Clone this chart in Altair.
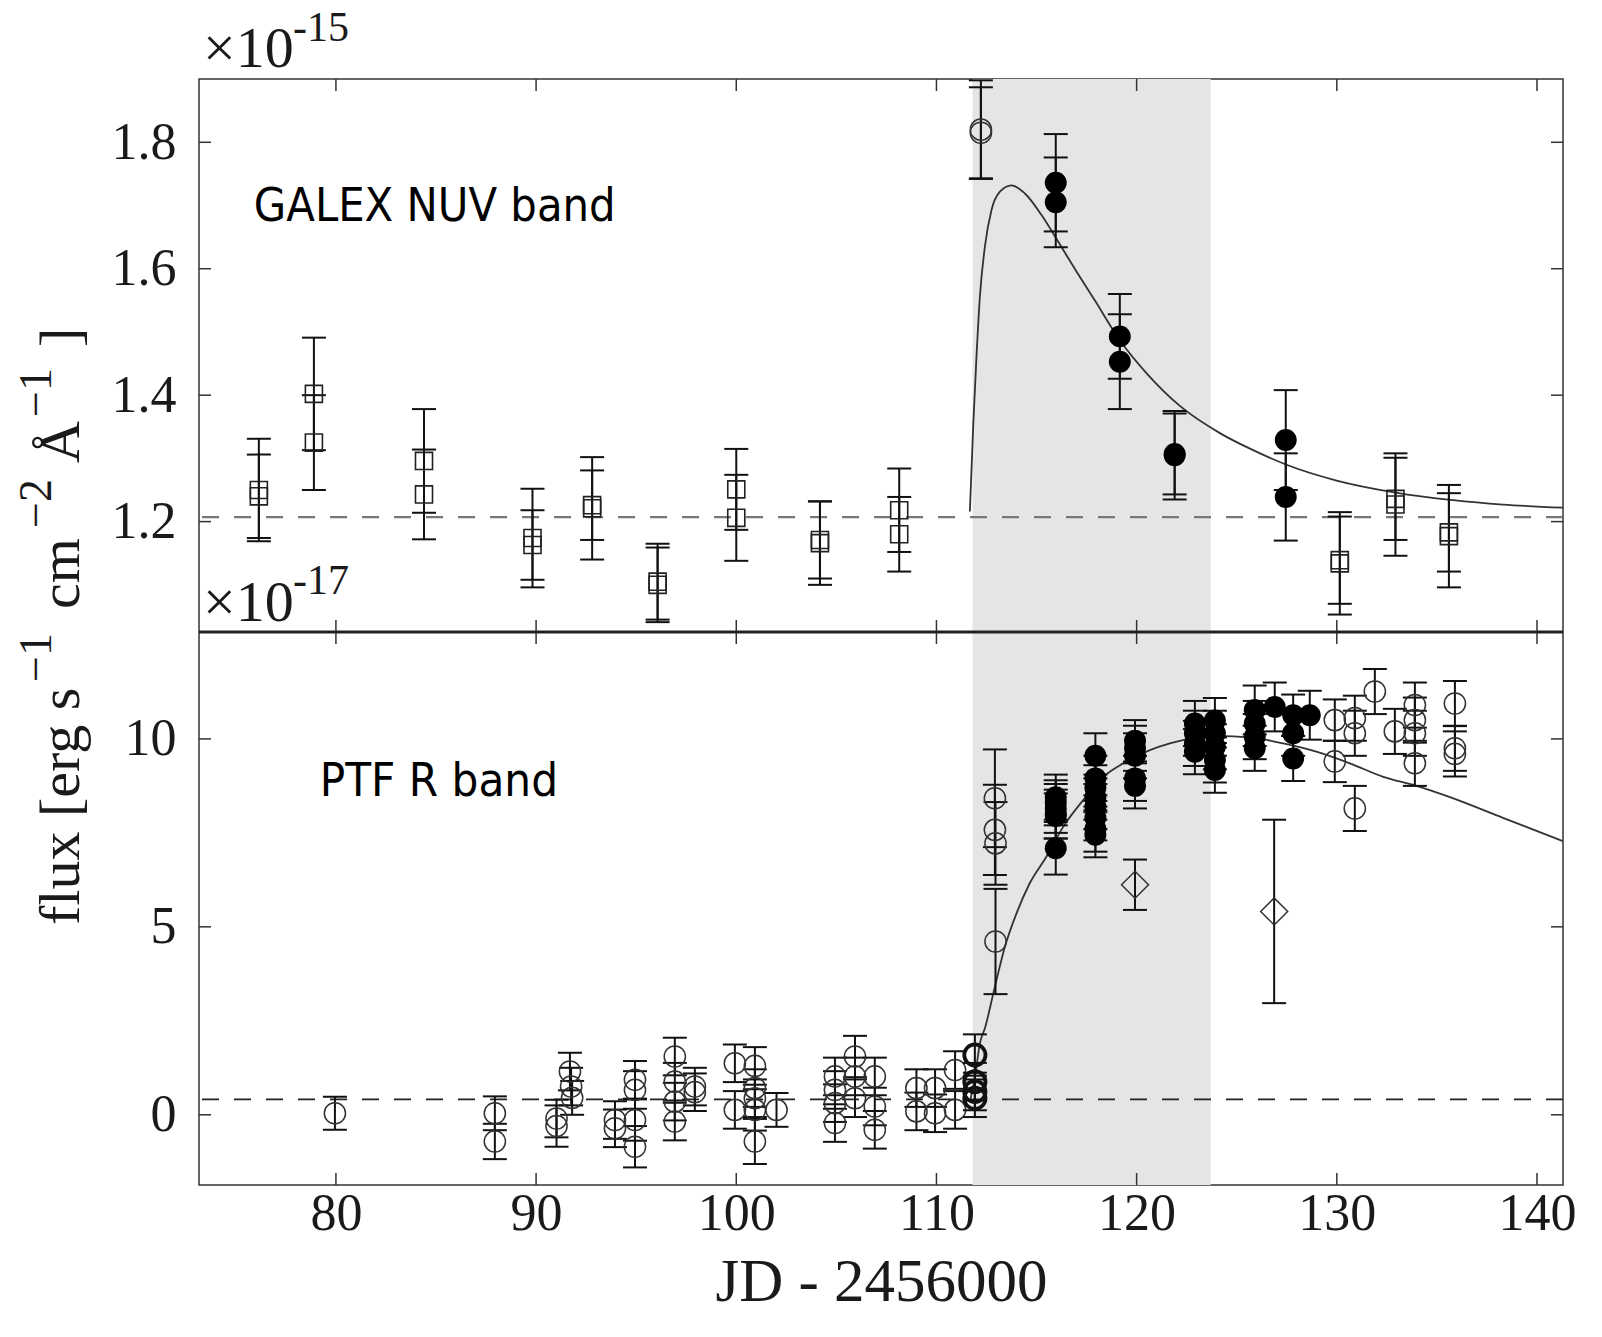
import altair as alt
import pandas as pd

# ------------------------------------------------------------------
# DATA
# ------------------------------------------------------------------
# GALEX NUV band (top panel), flux in units of 1e-15
nuv_sq_x = [76.15, 76.15, 78.90, 78.90, 84.40, 84.40, 89.82, 89.82, 92.80, 92.80,
            96.07, 96.07, 100.00, 100.00, 104.18, 104.18, 108.14, 108.14,
            130.15, 130.15, 132.93, 132.93, 135.60, 135.60]
nuv_sq_y = [1.250, 1.240, 1.402, 1.325, 1.296, 1.243, 1.174, 1.163, 1.221, 1.226,
            1.105, 1.100, 1.251, 1.206, 1.171, 1.166, 1.218, 1.180,
            1.134, 1.139, 1.227, 1.236, 1.177, 1.183]
nuv_sq_e = [0.081, 0.066, 0.089, 0.075, 0.082, 0.071, 0.078, 0.055, 0.081, 0.055,
            0.060, 0.059, 0.064, 0.068, 0.061, 0.066, 0.066, 0.059,
            0.081, 0.069, 0.081, 0.065, 0.081, 0.062]

nuv_fill_x = [115.96, 115.96, 119.16, 119.16, 121.90, 121.90, 127.45, 127.45]
nuv_fill_y = [1.736, 1.705, 1.493, 1.453, 1.305, 1.307, 1.329, 1.239]
nuv_fill_e = [0.077, 0.071, 0.067, 0.075, 0.070, 0.064, 0.079, 0.069]

nuv_open_x = [112.22, 112.22]
nuv_open_y = [1.815, 1.820]
nuv_open_e = [0.072, 0.078]

nuv_model_x = [111.67, 111.84, 112.00, 112.17, 112.42, 112.75, 113.17, 113.75, 114.42,
               115.25, 116.08, 116.91, 117.91, 119.16, 120.49, 122.16, 124.16, 125.82,
               127.49, 129.99, 132.93, 135.81, 138.30, 141.30]
nuv_model_y = [1.216, 1.355, 1.461, 1.556, 1.635, 1.693, 1.722, 1.732, 1.719,
               1.685, 1.643, 1.600, 1.550, 1.487, 1.435, 1.383, 1.340, 1.313,
               1.290, 1.265, 1.246, 1.234, 1.227, 1.222]
nuv_quiescent = [1.207]

# PTF R band (bottom panel), flux in units of 1e-17
ptf_open_x = [79.95, 87.94, 87.94, 91.02, 91.02, 91.69, 91.75, 91.80, 93.94, 93.94,
              94.94, 94.94, 94.94, 94.94, 96.93, 96.93, 96.93, 96.93, 97.93, 97.93,
              99.93, 99.93, 100.93, 100.93, 100.93, 100.93, 100.93, 102.01,
              104.93, 104.93, 104.93, 104.93, 105.93, 105.93, 105.93,
              106.92, 106.92, 106.92, 109.00, 109.00, 109.93, 109.93, 110.93, 110.93,
              112.92, 112.92, 112.95, 112.95,
              129.90, 129.90, 130.90, 130.90, 130.90, 131.90, 132.90,
              133.90, 133.90, 133.90, 133.90, 135.90, 135.90, 135.90]
ptf_open_y = [0.04, 0.04, -0.71, -0.10, -0.30, 1.15, 0.75, 0.45, -0.14, -0.36,
              0.93, 0.66, -0.14, -0.85, 1.55, 0.88, 0.35, -0.18, 0.75, 0.60,
              1.37, 0.13, 1.30, 0.71, 0.44, 0.13, -0.71, 0.13,
              1.02, 0.66, 0.31, -0.22, 1.55, 1.02, 0.44,
              1.02, 0.22, -0.40, 0.71, 0.09, 0.71, 0.04, 1.19, 0.13,
              8.42, 7.58, 7.22, 4.61,
              10.50, 9.40, 10.55, 10.15, 8.15, 11.26, 10.20,
              10.90, 10.50, 10.15, 9.35, 10.94, 9.75, 9.60]
ptf_open_e = [0.44, 0.45, 0.47, 0.50, 0.55, 0.50, 0.50, 0.45, 0.50, 0.50,
              0.50, 0.50, 0.55, 0.55, 0.50, 0.50, 0.50, 0.50, 0.50, 0.50,
              0.50, 0.50, 0.50, 0.50, 0.50, 0.55, 0.60, 0.45,
              0.50, 0.50, 0.50, 0.50, 0.55, 0.50, 0.50,
              0.50, 0.50, 0.50, 0.50, 0.50, 0.50, 0.50, 0.50, 0.50,
              1.30, 1.20, 1.10, 1.40,
              0.55, 0.55, 0.60, 0.60, 0.60, 0.60, 0.60,
              0.60, 0.60, 0.60, 0.60, 0.60, 0.60, 0.60]

ptf_bold_x = [111.92, 111.92, 111.92, 111.92]
ptf_bold_y = [1.59, 0.88, 0.62, 0.44]
ptf_bold_e = [0.55, 0.50, 0.50, 0.50]

ptf_fill_x = [115.96, 115.96, 115.96, 115.96, 115.96, 115.96,
              117.94, 117.94, 117.94, 117.94, 117.94, 117.94, 117.94, 117.94,
              119.92, 119.92, 119.92, 119.92, 119.92,
              122.91, 122.91, 122.91, 122.91,
              123.91, 123.91, 123.91, 123.91, 123.91,
              125.90, 125.90, 125.90, 125.90, 126.90,
              127.82, 127.82, 127.82, 128.65]
ptf_fill_y = [8.45, 8.30, 8.15, 8.00, 7.95, 7.09,
              9.55, 8.95, 8.70, 8.45, 8.20, 7.90, 7.60, 7.45,
              9.95, 9.75, 9.55, 8.95, 8.75,
              10.41, 10.15, 9.88, 9.66,
              10.49, 10.15, 9.79, 9.44, 9.17,
              10.77, 10.41, 10.06, 9.75, 10.85,
              10.63, 10.15, 9.48, 10.63]
ptf_fill_e = [0.60, 0.60, 0.65, 0.65, 0.60, 0.70,
              0.60, 0.60, 0.60, 0.60, 0.60, 0.60, 0.60, 0.60,
              0.55, 0.60, 0.60, 0.60, 0.60,
              0.60, 0.60, 0.60, 0.60,
              0.60, 0.60, 0.60, 0.60, 0.60,
              0.65, 0.60, 0.60, 0.60, 0.65,
              0.55, 0.60, 0.60, 0.65]

ptf_diamond_x = [119.92, 126.87]
ptf_diamond_y = [6.12, 5.41]
ptf_diamond_e = [0.67, 2.44]

ptf_model_x = [111.70, 111.95, 112.17, 112.42, 112.92, 113.42, 114.00, 114.66, 115.50,
               116.33, 117.33, 118.33, 119.33, 120.66, 121.66, 122.32, 123.99, 125.65,
               127.32, 128.98, 130.65, 132.32, 133.98, 135.65, 138.30, 141.30]
ptf_model_y = [0.41, 1.10, 1.90, 2.30, 3.41, 4.47, 5.36, 6.16, 6.87,
               7.66, 8.37, 8.99, 9.35, 9.70, 9.88, 9.97, 10.08, 10.04,
               9.88, 9.66, 9.35, 8.99, 8.75, 8.45, 7.90, 7.28]
ptf_quiescent = [0.41]

flare_window = [111.8, 123.7]

x_ticks = [80, 90, 100, 110, 120, 130, 140]
top_ticks = [1.2, 1.4, 1.6, 1.8]
bot_ticks = [0, 5, 10]

# ------------------------------------------------------------------
# LAYOUT
# ------------------------------------------------------------------
X_DOM = [73.16, 141.30]
TOP_DOM = [1.0254, 1.9001]
BOT_DOM = [-1.868, 12.844]
W = 1364
PH = 553          # height of each panel
H = 2 * PH
SERIF = "Liberation Serif"
SANS = "DejaVu Sans Condensed, DejaVu Sans"
INK = "#1a1a1a"
TICK_LEN = 12
TICK_FONT = 52

xs = alt.Scale(domain=X_DOM, nice=False, zero=False)
x_axis = alt.Axis(values=x_ticks, format="d", ticks=False, tickSize=0, domain=False,
                  grid=False, labelFont=SERIF, labelFontSize=TICK_FONT, labelColor=INK,
                  labelPadding=3, title="JD - 2456000", titleFont=SERIF,
                  titleFontSize=61, titleFontWeight="normal", titleColor=INK,
                  titlePadding=13)
ys_top = alt.Scale(domain=TOP_DOM, range=[PH, 0], nice=False, zero=False)
ys_bot = alt.Scale(domain=BOT_DOM, range=[H, PH], nice=False, zero=False)
y_axis_top = alt.Axis(values=top_ticks, format=".1f", orient="left", ticks=False,
                      tickSize=0, domain=False, grid=False, labelFont=SERIF,
                      labelFontSize=TICK_FONT, labelColor=INK, labelPadding=23, title=None)
y_axis_bot = alt.Axis(values=bot_ticks, format="d", orient="left", ticks=False,
                      tickSize=0, domain=False, grid=False, labelFont=SERIF,
                      labelFontSize=TICK_FONT, labelColor=INK, labelPadding=23, title=None)


def X(field):
    return alt.X(field, type="quantitative", scale=xs, axis=x_axis)


def panel(yscale, yaxis, dom, series, model_x, model_y, quiescent, q_color, q_width):
    def Y(field):
        return alt.Y(field, type="quantitative", scale=yscale, axis=yaxis)

    layers = []
    # quiescent level (dashed)
    layers.append(
        alt.Chart(pd.DataFrame({"y": quiescent}))
        .mark_rule(color=q_color, strokeWidth=q_width, strokeDash=[17, 15])
        .encode(y=Y("y"))
    )
    # model light curve
    layers.append(
        alt.Chart(pd.DataFrame({"x": model_x, "y": model_y}))
        .mark_line(color="#333333", strokeWidth=1.8, interpolate="monotone", clip=True)
        .encode(x=X("x"), y=Y("y"))
    )
    # error bars + markers
    for (sx, sy, se, mark_kwargs) in series:
        df = pd.DataFrame({"x": sx, "y": sy, "e": se})
        base = alt.Chart(df).transform_calculate(
            lo="datum.y - datum.e", hi="datum.y + datum.e"
        )
        layers.append(
            base.mark_rule(color="#111111", strokeWidth=2, clip=True)
            .encode(x=X("x"), y=Y("lo:Q"), y2=alt.Y2("hi:Q"))
        )
        for end in ("lo", "hi"):
            layers.append(
                base.mark_tick(orient="horizontal", color="#111111", size=24,
                               thickness=2, opacity=1, clip=True)
                .encode(x=X("x"), y=Y(end + ":Q"))
            )
        layers.append(
            alt.Chart(df).mark_point(opacity=1, **mark_kwargs).encode(x=X("x"), y=Y("y"))
        )
    # inward ticks on all four sides of the panel
    dy = TICK_LEN * (dom[1] - dom[0]) / PH
    dx = TICK_LEN * (X_DOM[1] - X_DOM[0]) / W
    xt = pd.DataFrame({"x": x_ticks * 2,
                       "y": [dom[0]] * len(x_ticks) + [dom[1]] * len(x_ticks),
                       "y2": [dom[0] + dy] * len(x_ticks) + [dom[1] - dy] * len(x_ticks)})
    layers.append(
        alt.Chart(xt).mark_rule(color="#333333", strokeWidth=1.5)
        .encode(x=X("x"), y=Y("y"), y2=alt.Y2("y2"))
    )
    yt_vals = yaxis.values
    yt = pd.DataFrame({"x": [X_DOM[0]] * len(yt_vals) + [X_DOM[1]] * len(yt_vals),
                       "x2": [X_DOM[0] + dx] * len(yt_vals) + [X_DOM[1] - dx] * len(yt_vals),
                       "y": list(yt_vals) * 2})
    layers.append(
        alt.Chart(yt).mark_rule(color="#333333", strokeWidth=1.5)
        .encode(x=X("x"), x2=alt.X2("x2"), y=Y("y"))
    )
    return layers


# shaded flare window (spans both panels)
shade = (
    alt.Chart(pd.DataFrame({"x": [flare_window[0]], "x2": [flare_window[1]]}))
    .mark_rect(color="#e5e5e5")
    .encode(x=X("x"), x2=alt.X2("x2"))
)

sq_style = dict(shape="square", filled=False, size=290, strokeWidth=1.6, color="#222222")
fill_style = dict(shape="circle", filled=True, size=480, color="#000000")
open_style = dict(shape="circle", filled=False, size=450, strokeWidth=1.5, color="#333333")
bold_style = dict(shape="circle", filled=False, size=450, strokeWidth=3.8, color="#111111")
dia_style = dict(shape="diamond", filled=False, size=730, strokeWidth=1.5, color="#333333")

top_layers = panel(
    ys_top, y_axis_top, TOP_DOM,
    [(nuv_sq_x, nuv_sq_y, nuv_sq_e, sq_style),
     (nuv_open_x, nuv_open_y, nuv_open_e, open_style),
     (nuv_fill_x, nuv_fill_y, nuv_fill_e, fill_style)],
    nuv_model_x, nuv_model_y, nuv_quiescent, "#777777", 2.2,
)
top_text = (
    alt.Chart(pd.DataFrame({"x": [75.90], "y": [1.6976], "t": ["GALEX NUV band"]}))
    .mark_text(font=SANS, fontSize=46.5, align="left", baseline="middle", color="#000000")
    .encode(x=X("x"), y=alt.Y("y", type="quantitative", scale=ys_top, axis=y_axis_top),
            text="t:N")
)
top_group = alt.layer(shade, *top_layers, top_text)

bot_layers = panel(
    ys_bot, y_axis_bot, BOT_DOM,
    [(ptf_open_x, ptf_open_y, ptf_open_e, open_style),
     (ptf_bold_x, ptf_bold_y, ptf_bold_e, bold_style),
     (ptf_diamond_x, ptf_diamond_y, ptf_diamond_e, dia_style),
     (ptf_fill_x, ptf_fill_y, ptf_fill_e, fill_style)],
    ptf_model_x, ptf_model_y, ptf_quiescent, "#222222", 1.8,
)
separator = (
    alt.Chart(pd.DataFrame({"y": [BOT_DOM[1]]}))
    .mark_rule(color="#222222", strokeWidth=3)
    .encode(y=alt.Y("y", type="quantitative", scale=ys_bot, axis=y_axis_bot))
)
bot_text = (
    alt.Chart(pd.DataFrame({"x": [79.19], "y": [8.85], "t": ["PTF R band"]}))
    .mark_text(font=SANS, fontSize=47, align="left", baseline="middle", color="#000000")
    .encode(x=X("x"), y=alt.Y("y", type="quantitative", scale=ys_bot, axis=y_axis_bot),
            text="t:N")
)
bot_group = alt.layer(*bot_layers, separator, bot_text)


def label(text, px, py, size, angle=0):
    return (
        alt.Chart(pd.DataFrame({"t": [text]}))
        .mark_text(font=SERIF, fontSize=size, angle=angle, align="left",
                   baseline="alphabetic", color=INK)
        .encode(x=alt.value(px), y=alt.value(py), text="t:N")
    )


F_MAIN, F_SUP = 58, 46
BASE_X, SUP_X = -120, -148
ylabel_parts = [
    ("flux [erg s", BASE_X, 846, F_MAIN),
    ("\u22121", SUP_X, 603, F_SUP),
    ("cm", BASE_X, 530, F_MAIN),
    ("\u22122", SUP_X, 449, F_SUP),
    ("\u00c5", BASE_X, 384, F_MAIN),
    ("\u22121", SUP_X, 338, F_SUP),
    ("]", BASE_X, 268, F_MAIN),
]
ylabel = [label(t, px, py, fs, angle=270) for (t, px, py, fs) in ylabel_parts]

exps = [
    label("\u00d710", 4, -12, 58),
    label("-15", 94, -38, 42),
    label("\u00d710", 4, 542, 58),
    label("-17", 94, 515, 42),
]

chart = (
    alt.layer(top_group, bot_group, *ylabel, *exps)
    .resolve_scale(y="independent")
    .properties(
        width=W, height=H,
        autosize=alt.AutoSizeParams(type="none"),
        padding={"left": 199, "top": 79, "right": 39, "bottom": 152},
        background="white",
    )
    .configure_view(stroke="#333333", strokeWidth=1.5)
)

chart.save("out.html", embed_options={"renderer": "svg", "actions": False})
